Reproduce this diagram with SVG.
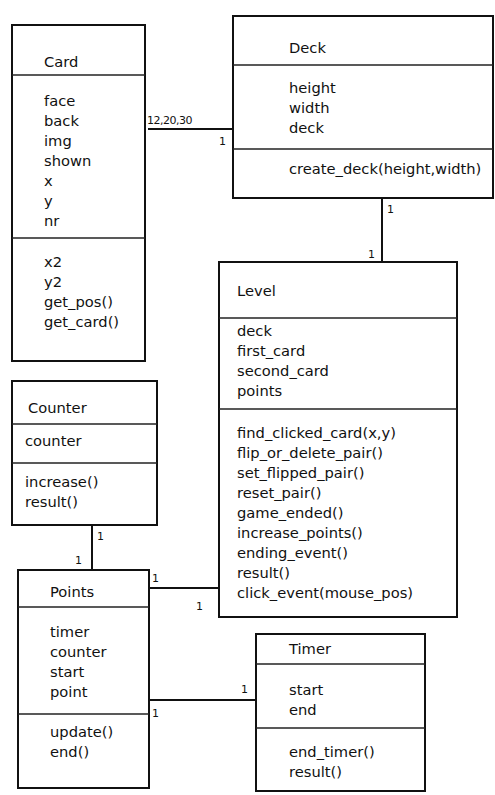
<svg xmlns="http://www.w3.org/2000/svg" width="495" height="795" viewBox="0 0 495 795">
<style>
.box{fill:#fff;stroke:#111;stroke-width:2}
.div{stroke:#222;stroke-width:1.5}
.t{font-family:"DejaVu Sans",Verdana,sans-serif;font-size:14.7px;fill:#111}
.c{stroke:#111;stroke-width:2;fill:none}
.m{font-family:"DejaVu Sans",sans-serif;font-size:11px;fill:#111}
</style>
<rect width="495" height="795" fill="#fff"/>
<g id="connectors">
<line class="c" x1="148" y1="129" x2="233" y2="129"/>
<text class="m" x="147" y="124" font-size="10" letter-spacing="-0.5">12,20,30</text>
<text class="m" x="219" y="145">1</text>
<line class="c" x1="382" y1="198" x2="382" y2="262"/>
<text class="m" x="387" y="213">1</text>
<text class="m" x="368" y="258">1</text>
<line class="c" x1="92" y1="525" x2="92" y2="570"/>
<text class="m" x="97" y="540">1</text>
<text class="m" x="75" y="564">1</text>
<line class="c" x1="149" y1="588" x2="219" y2="588"/>
<text class="m" x="152" y="582">1</text>
<text class="m" x="196" y="610">1</text>
<line class="c" x1="149" y1="700" x2="256" y2="700"/>
<text class="m" x="241" y="693">1</text>
<text class="m" x="152" y="717">1</text>
</g>
<g id="card">
<rect class="box" x="12" y="25" width="133" height="336"/>
<line class="div" x1="12" y1="75" x2="145" y2="75"/>
<line class="div" x1="12" y1="238" x2="145" y2="238"/>
<text class="t" x="44" y="67">Card</text>
<text class="t" x="44" y="106">face</text>
<text class="t" x="44" y="126">back</text>
<text class="t" x="44" y="146">img</text>
<text class="t" x="44" y="166">shown</text>
<text class="t" x="44" y="186">x</text>
<text class="t" x="44" y="206">y</text>
<text class="t" x="44" y="226">nr</text>
<text class="t" x="44" y="267">x2</text>
<text class="t" x="44" y="287">y2</text>
<text class="t" x="44" y="307">get_pos()</text>
<text class="t" x="44" y="327">get_card()</text>
</g>
<g id="deck">
<rect class="box" x="233" y="16" width="260" height="182"/>
<line class="div" x1="233" y1="65" x2="493" y2="65"/>
<line class="div" x1="233" y1="149" x2="493" y2="149"/>
<text class="t" x="289" y="53">Deck</text>
<text class="t" x="289" y="93">height</text>
<text class="t" x="289" y="113">width</text>
<text class="t" x="289" y="133">deck</text>
<text class="t" x="289" y="174">create_deck(height,width)</text>
</g>
<g id="level">
<rect class="box" x="219" y="262" width="238" height="355"/>
<line class="div" x1="219" y1="318" x2="457" y2="318"/>
<line class="div" x1="219" y1="409" x2="457" y2="409"/>
<text class="t" x="237" y="296">Level</text>
<text class="t" x="237" y="336">deck</text>
<text class="t" x="237" y="356">first_card</text>
<text class="t" x="237" y="376">second_card</text>
<text class="t" x="237" y="396">points</text>
<text class="t" x="237" y="438">find_clicked_card(x,y)</text>
<text class="t" x="237" y="458">flip_or_delete_pair()</text>
<text class="t" x="237" y="478">set_flipped_pair()</text>
<text class="t" x="237" y="498">reset_pair()</text>
<text class="t" x="237" y="518">game_ended()</text>
<text class="t" x="237" y="538">increase_points()</text>
<text class="t" x="237" y="558">ending_event()</text>
<text class="t" x="237" y="578">result()</text>
<text class="t" x="237" y="598">click_event(mouse_pos)</text>
</g>
<g id="counter">
<rect class="box" x="12" y="381" width="145" height="144"/>
<line class="div" x1="12" y1="424" x2="157" y2="424"/>
<line class="div" x1="12" y1="463" x2="157" y2="463"/>
<text class="t" x="28" y="413">Counter</text>
<text class="t" x="25" y="446">counter</text>
<text class="t" x="25" y="487">increase()</text>
<text class="t" x="25" y="507">result()</text>
</g>
<g id="points">
<rect class="box" x="18" y="570" width="131" height="218"/>
<line class="div" x1="18" y1="607" x2="149" y2="607"/>
<line class="div" x1="18" y1="714" x2="149" y2="714"/>
<text class="t" x="50" y="597">Points</text>
<text class="t" x="50" y="637">timer</text>
<text class="t" x="50" y="657">counter</text>
<text class="t" x="50" y="677">start</text>
<text class="t" x="50" y="697">point</text>
<text class="t" x="50" y="737">update()</text>
<text class="t" x="50" y="757">end()</text>
</g>
<g id="timer">
<rect class="box" x="256" y="634" width="169" height="157"/>
<line class="div" x1="256" y1="664" x2="425" y2="664"/>
<line class="div" x1="256" y1="728" x2="425" y2="728"/>
<text class="t" x="289" y="654">Timer</text>
<text class="t" x="289" y="695">start</text>
<text class="t" x="289" y="715">end</text>
<text class="t" x="289" y="757">end_timer()</text>
<text class="t" x="289" y="777">result()</text>
</g>
</svg>
